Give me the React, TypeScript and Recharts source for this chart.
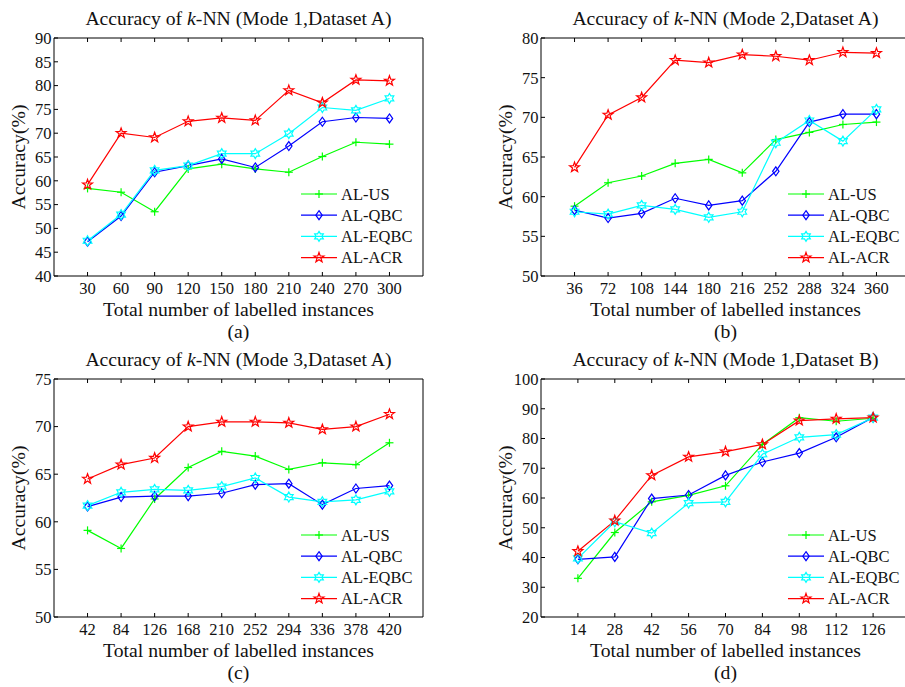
import { Legend, Line, LineChart, XAxis, YAxis } from 'recharts';

const FONT = '"Liberation Serif", "Times New Roman", serif';

// Panel (a): Mode 1, Dataset A
const xA = [30, 60, 90, 120, 150, 180, 210, 240, 270, 300];
const usA = [58.4, 57.6, 53.5, 62.5, 63.5, 62.5, 61.8, 65.1, 68.1, 67.7];
const qbcA = [47.2, 52.6, 61.8, 63.2, 64.6, 62.8, 67.3, 72.4, 73.3, 73.1];
const eqbcA = [47.4, 52.9, 62.2, 63.2, 65.7, 65.7, 69.9, 75.4, 74.8, 77.3];
const acrA = [59.2, 70.0, 69.1, 72.5, 73.2, 72.7, 79.0, 76.4, 81.2, 81.0];

// Panel (b): Mode 2, Dataset A
const xB = [36, 72, 108, 144, 180, 216, 252, 288, 324, 360];
const usB = [58.8, 61.75, 62.6, 64.2, 64.7, 63.0, 67.2, 68.1, 69.1, 69.4];
const qbcB = [58.3, 57.3, 57.9, 59.8, 58.9, 59.5, 63.2, 69.4, 70.4, 70.4];
const eqbcB = [58.1, 57.8, 58.9, 58.4, 57.4, 58.1, 66.8, 69.6, 67.0, 71.0];
const acrB = [63.7, 70.3, 72.5, 77.2, 76.9, 77.9, 77.7, 77.2, 78.2, 78.1];

// Panel (c): Mode 3, Dataset A
const xC = [42, 84, 126, 168, 210, 252, 294, 336, 378, 420];
const usC = [59.1, 57.2, 62.4, 65.7, 67.4, 66.9, 65.5, 66.2, 66.0, 68.3];
const qbcC = [61.6, 62.6, 62.7, 62.7, 63.0, 63.9, 64.0, 61.8, 63.5, 63.8];
const eqbcC = [61.7, 63.1, 63.4, 63.3, 63.7, 64.6, 62.6, 62.1, 62.3, 63.2];
const acrC = [64.5, 66.0, 66.7, 70.0, 70.5, 70.5, 70.4, 69.7, 70.0, 71.3];

// Panel (d): Mode 1, Dataset B
const xD = [14, 28, 42, 56, 70, 84, 98, 112, 126];
const usD = [33.0, 48.4, 58.7, 60.9, 64.1, 78.0, 87.0, 85.8, 86.8];
const qbcD = [39.4, 40.2, 59.8, 61.0, 67.6, 72.1, 75.1, 80.4, 87.1];
const eqbcD = [39.7, 52.0, 48.2, 58.3, 58.7, 74.7, 80.4, 81.3, 87.0];
const acrD = [42.1, 52.4, 67.6, 73.8, 75.6, 78.0, 86.0, 86.6, 87.0];

const yTicksA = [40, 45, 50, 55, 60, 65, 70, 75, 80, 85, 90];
const yTicksB = [50, 55, 60, 65, 70, 75, 80];
const yTicksC = [50, 55, 60, 65, 70, 75];
const yTicksD = [20, 30, 40, 50, 60, 70, 80, 90, 100];

const SERIES = [
  { key: 'us', name: 'AL-US', color: '#00ff00', marker: 'plus' },
  { key: 'qbc', name: 'AL-QBC', color: '#0000ff', marker: 'diamond' },
  { key: 'eqbc', name: 'AL-EQBC', color: '#00ffff', marker: 'hexagram' },
  { key: 'acr', name: 'AL-ACR', color: '#ff0000', marker: 'pentagram' },
];

const buildRows = (xs: number[], us: number[], qbc: number[], eqbc: number[], acr: number[]) =>
  xs.map((x, i) => ({ x, us: us[i], qbc: qbc[i], eqbc: eqbc[i], acr: acr[i] }));

const starPoints = (cx: number, cy: number, n: number, R: number, r: number) => {
  const pts: string[] = [];
  for (let i = 0; i < n * 2; i++) {
    const rad = i % 2 === 0 ? R : r;
    const a = -Math.PI / 2 + (i * Math.PI) / n;
    pts.push(`${cx + rad * Math.cos(a)},${cy + rad * Math.sin(a)}`);
  }
  return pts.join(' ');
};

const Marker = ({ type, cx, cy, color }: { type: string; cx: number; cy: number; color: string }) => {
  if (type === 'plus') {
    return (
      <g stroke={color} strokeWidth={1.2}>
        <line x1={cx - 4} y1={cy} x2={cx + 4} y2={cy} />
        <line x1={cx} y1={cy - 4} x2={cx} y2={cy + 4} />
      </g>
    );
  }
  if (type === 'diamond') {
    return (
      <polygon
        points={`${cx},${cy - 4.5} ${cx + 3.2},${cy} ${cx},${cy + 4.5} ${cx - 3.2},${cy}`}
        fill="none"
        stroke={color}
        strokeWidth={1.2}
      />
    );
  }
  if (type === 'hexagram') {
    return <polygon points={starPoints(cx, cy, 6, 5, 2.9)} fill="none" stroke={color} strokeWidth={1.2} />;
  }
  return <polygon points={starPoints(cx, cy, 5, 5.2, 2.1)} fill="none" stroke={color} strokeWidth={1.2} />;
};

const LegendBox = () => (
  <svg width={130} height={90} style={{ display: 'block', overflow: 'visible' }}>
    {SERIES.map((s, i) => {
      const y = 11 + i * 21.2;
      return (
        <g key={s.key}>
          <line x1={0} y1={y} x2={36} y2={y} stroke={s.color} strokeWidth={1.2} />
          <Marker type={s.marker} cx={18} cy={y} color={s.color} />
          <text x={40} y={y + 5.8} fontSize={16.5} fontFamily={FONT} fill="#111">
            {s.name}
          </text>
        </g>
      );
    })}
  </svg>
);

interface PanelProps {
  left: number;
  top: number;
  mode: string;
  dataset: string;
  caption: string;
  xs: number[];
  xMax: number;
  yTicks: number[];
  rows: { x: number; us: number; qbc: number; eqbc: number; acr: number }[];
}

const PLOT_W = 369;
const PLOT_H = 238;
const AXIS_W = 54;

const Panel = ({ left, top, mode, dataset, caption, xs, xMax, yTicks, rows }: PanelProps) => {
  const tickStyle = { fontSize: 16.5, fontFamily: FONT, fill: '#111' };
  const yDomain = [yTicks[0], yTicks[yTicks.length - 1]];
  return (
    <div style={{ position: 'absolute', left, top }}>
      <LineChart
        width={AXIS_W + PLOT_W + 10}
        height={40 + PLOT_H + 80}
        data={rows}
        margin={{ top: 39, right: 9, bottom: 40, left: 0 }}
      >
        <XAxis
          dataKey="x"
          type="number"
          domain={[0, xMax]}
          ticks={xs}
          interval={0}
          tickSize={-4}
          tickMargin={10}
          height={40}
          stroke="#000"
          tick={tickStyle}
          label={(p: any) => {
            const vb = p.viewBox;
            const cx = vb.x + vb.width / 2;
            return (
              <g fontFamily={FONT} fill="#111" textAnchor="middle">
                <text x={cx} y={vb.y + 40} fontSize={19.7}>
                  Total number of labelled instances
                </text>
                <text x={cx} y={vb.y + 61.5} fontSize={19.7}>
                  {caption}
                </text>
              </g>
            );
          }}
        />
        <XAxis
          xAxisId="top"
          orientation="top"
          dataKey="x"
          type="number"
          domain={[0, xMax]}
          ticks={xs}
          interval={0}
          tickSize={-4}
          height={1}
          stroke="#000"
          tickFormatter={() => ''}
          label={(p: any) => {
            const vb = p.viewBox;
            return (
              <text
                x={vb.x + vb.width / 2}
                y={vb.y + vb.height - 13.5}
                fontSize={19.7}
                fontFamily={FONT}
                fill="#111"
                textAnchor="middle"
              >
                Accuracy of <tspan fontStyle="italic">k</tspan>-NN (Mode {mode},Dataset {dataset})
              </text>
            );
          }}
        />
        <YAxis
          type="number"
          domain={yDomain}
          ticks={yTicks}
          interval={0}
          width={AXIS_W}
          tickSize={-4}
          tickMargin={6.6}
          stroke="#000"
          tick={tickStyle}
          label={(p: any) => {
            const vb = p.viewBox;
            const x = vb.x + vb.width - 29;
            const y = vb.y + vb.height / 2;
            return (
              <text
                x={x}
                y={y}
                transform={`rotate(-90, ${x}, ${y})`}
                fontSize={19.7}
                fontFamily={FONT}
                fill="#111"
                textAnchor="middle"
              >
                Accuracy(%)
              </text>
            );
          }}
        />
        <YAxis
          yAxisId="right"
          orientation="right"
          type="number"
          domain={yDomain}
          ticks={yTicks}
          interval={0}
          width={1}
          tickSize={-4}
          stroke="#000"
          tickFormatter={() => ''}
        />
        {SERIES.map((s) => (
          <Line
            key={s.key}
            type="linear"
            dataKey={s.key}
            name={s.name}
            stroke={s.color}
            strokeWidth={1.2}
            isAnimationActive={false}
            activeDot={false}
            dot={(p: any) => (
              <g key={`${s.key}-${p.index}`}>
                <Marker type={s.marker} cx={p.cx} cy={p.cy} color={s.color} />
              </g>
            )}
          />
        ))}
        <Legend
          layout="horizontal"
          verticalAlign="middle"
          align="center"
          wrapperStyle={{ left: AXIS_W + 247, top: 40 + 145, width: 130, height: 90 }}
          content={() => <LegendBox />}
        />
      </LineChart>
    </div>
  );
};

export default function App() {
  return (
    <div
      style={{
        position: 'absolute',
        left: 0,
        top: 0,
        width: 905,
        height: 687,
        overflow: 'hidden',
        background: '#fff',
      }}
    >
      <Panel left={0} top={-2} mode="1" dataset="A" caption="(a)" xs={xA} xMax={330} yTicks={yTicksA}
        rows={buildRows(xA, usA, qbcA, eqbcA, acrA)} />
      <Panel left={487} top={-2} mode="2" dataset="A" caption="(b)" xs={xB} xMax={396} yTicks={yTicksB}
        rows={buildRows(xB, usB, qbcB, eqbcB, acrB)} />
      <Panel left={0} top={339} mode="3" dataset="A" caption="(c)" xs={xC} xMax={462} yTicks={yTicksC}
        rows={buildRows(xC, usC, qbcC, eqbcC, acrC)} />
      <Panel left={487} top={339} mode="1" dataset="B" caption="(d)" xs={xD} xMax={140} yTicks={yTicksD}
        rows={buildRows(xD, usD, qbcD, eqbcD, acrD)} />
    </div>
  );
}
